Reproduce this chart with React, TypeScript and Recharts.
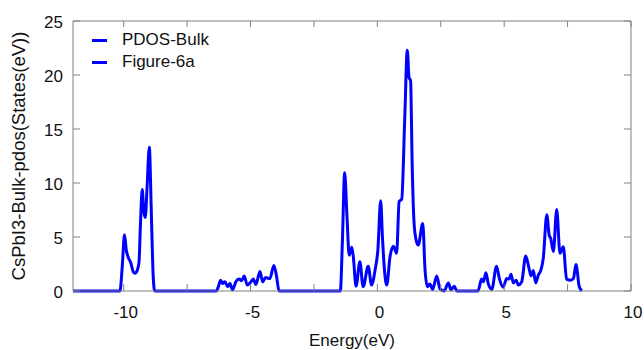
import React from 'react';
import { LineChart, Line, XAxis, YAxis, Legend } from 'recharts';

// energy (eV) and PDOS values
const energy = [
  -12,
  -10.15, -10.06, -9.97, -9.9, -9.82, -9.72, -9.62, -9.55, -9.47, -9.4, -9.34, -9.27, -9.21, -9.15, -9.08, -8.99, -8.92, -8.85, -8.78,
  -6.35, -6.27, -6.18, -6.1, -6.01, -5.9, -5.81, -5.71, -5.58, -5.45, -5.35, -5.25, -5.13, -5.02, -4.89, -4.79, -4.63, -4.52, -4.41, -4.24, -4.08, -3.97, -3.88,
  -1.46, -1.38, -1.29, -1.2, -1.11, -1.01, -0.95, -0.84, -0.69, -0.56, -0.36, -0.23, -0.09, 0.02, 0.13, 0.2, 0.27, 0.37, 0.5, 0.63, 0.76, 0.86, 0.96, 1.08, 1.18, 1.25, 1.31, 1.37, 1.44, 1.52, 1.61, 1.79, 1.88, 1.97, 2.07, 2.18, 2.34, 2.47, 2.63, 2.8, 2.9, 3.03, 3.13,
  3.97, 4.11, 4.18, 4.28, 4.37, 4.51, 4.7, 4.81, 4.96, 5.1, 5.19, 5.27, 5.36, 5.47, 5.56, 5.69, 5.85, 5.98, 6.06, 6.15, 6.24, 6.35, 6.45, 6.54, 6.68, 6.78, 6.83, 6.94, 7.07, 7.2, 7.33, 7.46, 7.62, 7.73, 7.83, 7.96, 8.06,
];

const pdos = [
  0,
  0, 2.2, 5.2, 3.8, 3.1, 2.6, 1.75, 1.65, 1.9, 2.6, 6.2, 9.4, 7.4, 6.8, 9.6, 13.3, 8.0, 2.0, 0,
  0, 0.4, 1.0, 0.7, 0.85, 0.4, 0.7, 0.1, 0.85, 1.1, 0.95, 1.4, 0.55, 0.75, 1.1, 0.6, 1.8, 0.85, 1.25, 1.15, 2.35, 1.3, 0,
  0, 4.5, 10.95, 7.0, 3.3, 4.05, 3.2, 0.45, 2.7, 0.4, 2.3, 0.55, 1.95, 3.8, 8.35, 5.0, 2.25, 0.55, 3.2, 4.15, 3.5, 8.3, 8.5, 16.0, 22.3, 19.75, 19.5, 12.0, 6.6, 4.8, 4.25, 6.25, 1.95, 0.4, 0.65, 0.15, 1.4, 0.2, 0, 0.75, 0.1, 0.45, 0,
  0, 1.1, 0.85, 1.7, 0.7, 0.15, 2.3, 1.15, 0.35, 1.15, 1.1, 1.55, 0.75, 1.0, 0.55, 0.85, 3.25, 2.1, 1.4, 1.9, 0.75, 1.5, 1.95, 3.0, 7.05, 5.1, 4.9, 3.65, 7.55, 3.5, 4.1, 1.1, 1.0, 1.15, 2.45, 0.4, 0,
];

const xTicks = [-10, -7.5, -5, -2.5, 0, 2.5, 5, 7.5, 10];
const yTicks = [0, 5, 10, 15, 20, 25];
const legendLabels = ['PDOS-Bulk', 'Figure-6a'];

const data = energy.map((e, i) => ({ e, v: pdos[i] }));

const FONT = '"Liberation Sans", Arial, Helvetica, sans-serif';
const BLUE = '#0000ff';
const FRAME = '#808080';
const TEXT = '#111';
const TICK_LEN = 7;

const BottomTick = (props: any) => {
  const { x, y, payload } = props;
  const v = payload.value;
  return (
    <g>
      <line x1={x} x2={x} y1={y} y2={y - TICK_LEN} stroke={FRAME} />
      {v % 5 === 0 && (
        <text x={x + 2} y={y + 27} textAnchor="middle" fontFamily={FONT} fontSize={17} fill={TEXT}>
          {v}
        </text>
      )}
    </g>
  );
};

// top axis box is 1px tall, so its line sits at the plot top
const TopTick = (props: any) => {
  const { x, y } = props;
  return <line x1={x} x2={x} y1={y} y2={y + TICK_LEN - 1} stroke={FRAME} />;
};

const LeftTick = (props: any) => {
  const { x, y, payload } = props;
  return (
    <g>
      <line x1={x} x2={x + TICK_LEN} y1={y} y2={y} stroke={FRAME} />
      <text x={x - 10} y={y + 7} textAnchor="end" fontFamily={FONT} fontSize={17} fill={TEXT}>
        {payload.value}
      </text>
    </g>
  );
};

const RightTick = (props: any) => {
  const { x, y } = props;
  return <line x1={x - TICK_LEN} x2={x} y1={y} y2={y} stroke={FRAME} />;
};

const PdosLegend = () => (
  <div style={{ fontFamily: FONT, fontSize: 17, color: TEXT }}>
    {legendLabels.map((label) => (
      <div key={label} style={{ display: 'flex', alignItems: 'center', height: 22 }}>
        <span style={{ display: 'inline-block', width: 15, height: 3, background: BLUE, marginRight: 15 }} />
        <span>{label}</span>
      </div>
    ))}
  </div>
);

export default function App() {
  return (
    <div style={{ position: 'absolute', left: 0, top: 0, width: 644, height: 350, background: '#fff' }}>
      <LineChart width={644} height={350} data={data} margin={{ top: 20, right: 12, bottom: 0, left: 0 }}>
        <XAxis
          xAxisId="b"
          dataKey="e"
          type="number"
          domain={[-12, 10]}
          ticks={xTicks}
          interval={0}
          height={59}
          stroke={FRAME}
          tickSize={0}
          tickMargin={0}
          tick={<BottomTick />}
          label={{
            content: (p: any) => {
              const vb = p.viewBox;
              return (
                <text
                  x={vb.x + vb.width / 2}
                  y={vb.y + 55}
                  textAnchor="middle"
                  fontFamily={FONT}
                  fontSize={17}
                  fill={TEXT}
                >
                  Energy(eV)
                </text>
              );
            },
          }}
        />
        <XAxis
          xAxisId="t"
          orientation="top"
          dataKey="e"
          type="number"
          domain={[-12, 10]}
          ticks={xTicks}
          interval={0}
          height={1}
          stroke={FRAME}
          tickSize={0}
          tickMargin={0}
          tick={<TopTick />}
        />
        <YAxis
          yAxisId="l"
          type="number"
          domain={[0, 25]}
          ticks={yTicks}
          interval={0}
          width={73}
          stroke={FRAME}
          tickSize={0}
          tickMargin={0}
          tick={<LeftTick />}
          label={{
            content: (p: any) => {
              const vb = p.viewBox;
              const cx = 18;
              const cy = vb.y + vb.height / 2;
              return (
                <text
                  x={cx}
                  y={cy}
                  transform={`rotate(-90 ${cx} ${cy})`}
                  textAnchor="middle"
                  dominantBaseline="central"
                  fontFamily={FONT}
                  fontSize={18.5}
                  fill={TEXT}
                >
                  CsPbI3-Bulk-pdos(States(eV))
                </text>
              );
            },
          }}
        />
        <YAxis
          yAxisId="r"
          orientation="right"
          type="number"
          domain={[0, 25]}
          ticks={yTicks}
          interval={0}
          width={1}
          stroke={FRAME}
          tickSize={0}
          tickMargin={0}
          tick={<RightTick />}
        />
        <Legend
          verticalAlign="middle"
          align="center"
          layout="horizontal"
          wrapperStyle={{ top: 29, left: 92, width: 'auto' }}
          content={<PdosLegend />}
        />
        <Line
          xAxisId="b"
          yAxisId="l"
          type="monotone"
          dataKey="v"
          stroke={BLUE}
          strokeWidth={3}
          dot={false}
          activeDot={false}
          isAnimationActive={false}
        />
        <Line
          xAxisId="t"
          yAxisId="r"
          dataKey="v"
          stroke="none"
          dot={false}
          activeDot={false}
          legendType="none"
          isAnimationActive={false}
        />
      </LineChart>
    </div>
  );
}
